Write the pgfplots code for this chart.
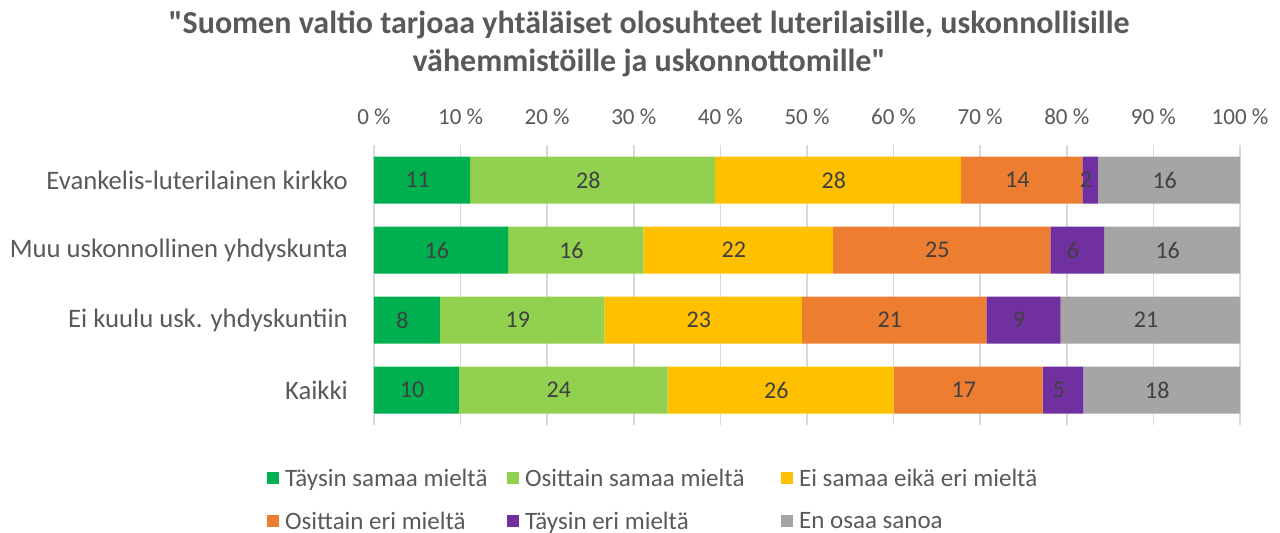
\documentclass[border=0pt]{standalone}
\usepackage{pgfplots}
\usepackage{pgfplotstable}
\pgfplotsset{compat=1.18}
\usepackage{fontspec}
\setmainfont{Carlito}[Ligatures=TeXOff]
\definecolor{cA}{HTML}{00B050}
\definecolor{cB}{HTML}{92D050}
\definecolor{cC}{HTML}{FFC000}
\definecolor{cD}{HTML}{ED7D31}
\definecolor{cE}{HTML}{7030A0}
\definecolor{cF}{HTML}{A5A5A5}
\definecolor{txt}{HTML}{595959}
\definecolor{lbl}{HTML}{404040}
\definecolor{grd}{HTML}{D9D9D9}
\pgfplotstableread{
y a b c d e f
0 11.1 28.3 28.4 14.0 1.8 16.4
1 15.5 15.6 21.9 25.1 6.2 15.7
2 7.6 19.0 22.8 21.3 8.6 20.7
3 9.8 24.1 26.1 17.2 4.7 18.1
}\data
\pgfplotsset{
  sq/.style={fill=#1, draw=none,
    legend image code/.code={\fill[#1] (0bp,-6bp) rectangle (12bp,6bp);}},
}
\begin{document}
\begin{tikzpicture}
\useasboundingbox (0,0) rectangle (1280bp,533bp);
\node[align=center, text=txt, font={\fontsize{32bp}{38.5bp}\selectfont\bfseries}] at (649bp,489bp)
  {"Suomen valtio tarjoaa yhtäläiset olosuhteet luterilaisille, uskonnollisille\\vähemmistöille ja uskonnottomille"};
\begin{axis}[
  at={(374bp,108bp)}, anchor=south west,
  width=866bp, height=280bp, scale only axis,
  xbar stacked, bar width=47bp,
  xmin=0, xmax=100, ymin=-0.5, ymax=3.5, y dir=reverse,
  ytick={0,1,2,3},
  yticklabels={Evankelis-luterilainen kirkko, Muu uskonnollinen yhdyskunta, Ei kuulu usk. yhdyskuntiin, Kaikki},
  xtick={0,10,...,100},
  xticklabels={0 \%,10 \%,20 \%,30 \%,40 \%,50 \%,60 \%,70 \%,80 \%,90 \%,100 \%},
  xticklabel pos=upper,
  axis line style={draw=none},
  major tick length=0pt,
  xmajorgrids, grid style={draw=grd, line width=1.5bp},
  xticklabel style={inner sep=0pt, yshift=20bp, text=txt, font={\fontsize{23bp}{26bp}\selectfont}},
  yticklabel style={inner sep=0pt, xshift=-26bp, text=txt, font={\fontsize{26.7bp}{29bp}\selectfont}},
  point meta=explicit,
  /pgf/number format/assume math mode=true,
  nodes near coords={\pgfmathprintnumber[fixed,precision=0]{\pgfplotspointmeta}},
  visualization depends on={\pgfplotspointmeta \as \myval},
  every node near coord/.append style={anchor=center, xshift=-\myval*4.33bp, text=lbl, font={\fontsize{24bp}{26bp}\selectfont}},
  legend columns=3,
  legend cell align=left,
  legend style={draw=none, fill=none, at={(-0.1236,-0.156)}, anchor=north west, inner sep=0pt,
    nodes={inner sep=0pt, text=txt, font={\fontsize{25bp}{28bp}\selectfont}},
    row sep=24bp,
    /tikz/every odd column/.append style={column sep=6bp}},
]
\addplot[sq=cA] table[x=a, y=y, meta=a] {\data};
\addplot[sq=cB] table[x=b, y=y, meta=b] {\data};
\addplot[sq=cC] table[x=c, y=y, meta=c] {\data};
\addplot[sq=cD] table[x=d, y=y, meta=d] {\data};
\addplot[sq=cE] table[x=e, y=y, meta=e] {\data};
\addplot[sq=cF] table[x=f, y=y, meta=f] {\data};
\addlegendentry{\makebox[222bp][l]{Täysin samaa mieltä}}
\addlegendentry{\makebox[256bp][l]{Osittain samaa mieltä}}
\addlegendentry{Ei samaa eikä eri mieltä}
\addlegendentry{Osittain eri mieltä}
\addlegendentry{Täysin eri mieltä}
\addlegendentry{En osaa sanoa}
\end{axis}
\end{tikzpicture}
\end{document}
